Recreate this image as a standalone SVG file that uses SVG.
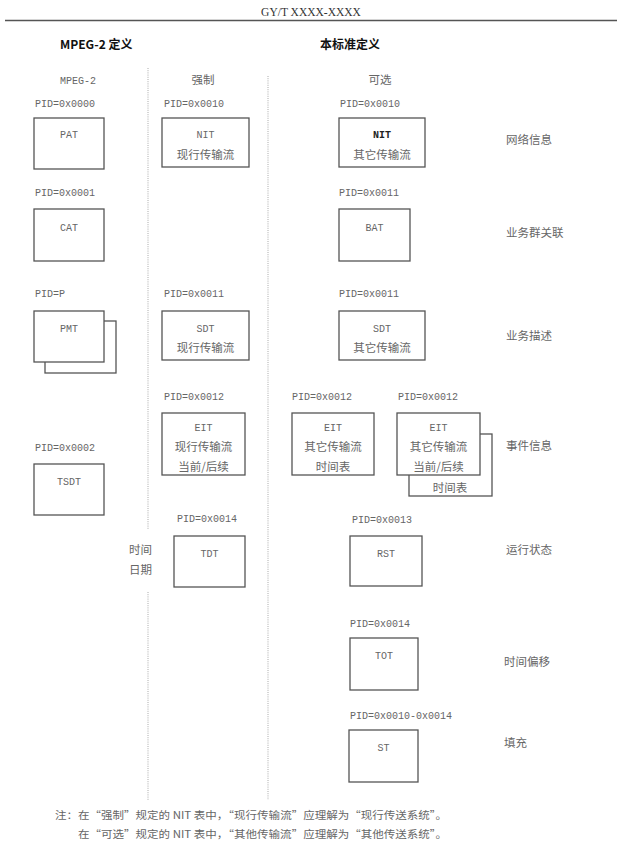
<svg xmlns="http://www.w3.org/2000/svg" width="622" height="857" viewBox="0 0 622 857">
<style>
.bx{fill:#fff;stroke:#555;stroke-width:1.3}
.m{font-family:"Liberation Mono",monospace;font-size:10px;fill:#666}
.c{font-family:"Noto Sans CJK SC",sans-serif;font-size:11.5px;fill:#666}
.t{text-anchor:middle}
.b{font-family:"Noto Sans CJK SC",sans-serif;font-size:12px;font-weight:bold;fill:#111}
.d{stroke:#aaa;stroke-width:1;stroke-dasharray:1 1.2;fill:none}
</style>
<rect width="622" height="857" fill="#fff"/>
<text x="311" y="16" text-anchor="middle" font-family="Liberation Serif,serif" font-size="11.5" fill="#333">GY/T XXXX-XXXX</text>
<line x1="5" y1="20.5" x2="617" y2="20.5" stroke="#555" stroke-width="1.5"/>
<text x="60" y="49" class="b">MPEG-2 定义</text>
<text x="320" y="49" class="b">本标准定义</text>
<g id="dividers">
<line class="d" x1="148" y1="68" x2="148" y2="530"/>
<line class="d" x1="148" y1="592" x2="148" y2="800"/>
<line class="d" x1="268" y1="76" x2="268" y2="800"/>
</g>
<text x="78" y="84" class="m t">MPEG-2</text>
<text x="203" y="84" class="c t">强制</text>
<text x="380" y="84" class="c t">可选</text>
<text x="35" y="107" class="m">PID=0x0000</text>
<text x="164" y="107" class="m">PID=0x0010</text>
<text x="340" y="107" class="m">PID=0x0010</text>
<g id="pat"><rect class="bx" x="34" y="118" width="70" height="51"/><text x="69" y="138" class="m t">PAT</text></g>
<g id="nit-actual"><rect class="bx" x="162" y="118" width="87" height="49"/><text x="205.5" y="138" class="m t">NIT</text><text x="205.5" y="159" class="c t">现行传输流</text></g>
<g id="nit-other"><rect class="bx" x="339" y="118" width="86" height="49"/><text x="382" y="138" class="m t" style="font-weight:bold;fill:#222">NIT</text><text x="382" y="159" class="c t">其它传输流</text></g>
<text x="506" y="144" class="c">网络信息</text>
<text x="35" y="196" class="m">PID=0x0001</text>
<text x="339" y="196" class="m">PID=0x0011</text>
<g id="cat"><rect class="bx" x="34" y="209" width="70" height="52"/><text x="69" y="231" class="m t">CAT</text></g>
<g id="bat"><rect class="bx" x="339" y="209" width="71" height="52"/><text x="374.5" y="231" class="m t">BAT</text></g>
<text x="506" y="237" class="c">业务群关联</text>
<text x="35" y="297" class="m">PID=P</text>
<text x="164" y="297" class="m">PID=0x0011</text>
<text x="339" y="297" class="m">PID=0x0011</text>
<g id="pmt"><rect class="bx" x="45" y="321" width="71" height="52"/><rect class="bx" x="34" y="311" width="70" height="51"/><text x="69" y="332" class="m t">PMT</text></g>
<g id="sdt-actual"><rect class="bx" x="162" y="311" width="87" height="49"/><text x="205.5" y="332" class="m t">SDT</text><text x="205.5" y="352" class="c t">现行传输流</text></g>
<g id="sdt-other"><rect class="bx" x="339" y="311" width="86" height="49"/><text x="382" y="332" class="m t">SDT</text><text x="382" y="352" class="c t">其它传输流</text></g>
<text x="506" y="340" class="c">业务描述</text>
<text x="164" y="400" class="m">PID=0x0012</text>
<text x="292" y="400" class="m">PID=0x0012</text>
<text x="398" y="400" class="m">PID=0x0012</text>
<text x="35" y="451" class="m">PID=0x0002</text>
<g id="eit-actual"><rect class="bx" x="162" y="413" width="83" height="62"/><text x="203.5" y="431" class="m t">EIT</text><text x="203.5" y="451" class="c t">现行传输流</text><text x="203.5" y="471" class="c t">当前/后续</text></g>
<g id="eit-other-schedule"><rect class="bx" x="292" y="413" width="82" height="62"/><text x="333" y="431" class="m t">EIT</text><text x="333" y="451" class="c t">其它传输流</text><text x="333" y="471" class="c t">时间表</text></g>
<g id="eit-other-pf"><rect class="bx" x="409" y="434" width="83" height="62"/><rect class="bx" x="397" y="413" width="83" height="62"/><text x="438.5" y="431" class="m t">EIT</text><text x="438.5" y="451" class="c t">其它传输流</text><text x="438.5" y="471" class="c t">当前/后续</text><text x="450" y="492" class="c t">时间表</text></g>
<text x="506" y="450" class="c">事件信息</text>
<g id="tsdt"><rect class="bx" x="34" y="464" width="70" height="51"/><text x="69" y="485" class="m t">TSDT</text></g>
<text x="177" y="522" class="m">PID=0x0014</text>
<text x="352" y="523" class="m">PID=0x0013</text>
<text x="129" y="554" class="c">时间</text>
<text x="129" y="574" class="c">日期</text>
<g id="tdt"><rect class="bx" x="174" y="536" width="71" height="51"/><text x="209.5" y="557" class="m t">TDT</text></g>
<g id="rst"><rect class="bx" x="350" y="536" width="72" height="50"/><text x="386" y="557" class="m t">RST</text></g>
<text x="506" y="554" class="c">运行状态</text>
<text x="350" y="627" class="m">PID=0x0014</text>
<g id="tot"><rect class="bx" x="350" y="638" width="68" height="52"/><text x="384" y="659" class="m t">TOT</text></g>
<text x="504" y="666" class="c">时间偏移</text>
<text x="350" y="719" class="m">PID=0x0010-0x0014</text>
<g id="st"><rect class="bx" x="349" y="730" width="69" height="52"/><text x="383.5" y="751" class="m t">ST</text></g>
<text x="504" y="747" class="c">填充</text>
<text x="55" y="819" class="c" style="font-size:10.5px" textLength="392" lengthAdjust="spacingAndGlyphs">注：在“强制”规定的 NIT 表中，“现行传输流”应理解为“现行传送系统”。</text>
<text x="78" y="838" class="c" style="font-size:10.5px" textLength="369" lengthAdjust="spacingAndGlyphs">在“可选”规定的 NIT 表中，“其他传输流”应理解为“其他传送系统”。</text>
</svg>
